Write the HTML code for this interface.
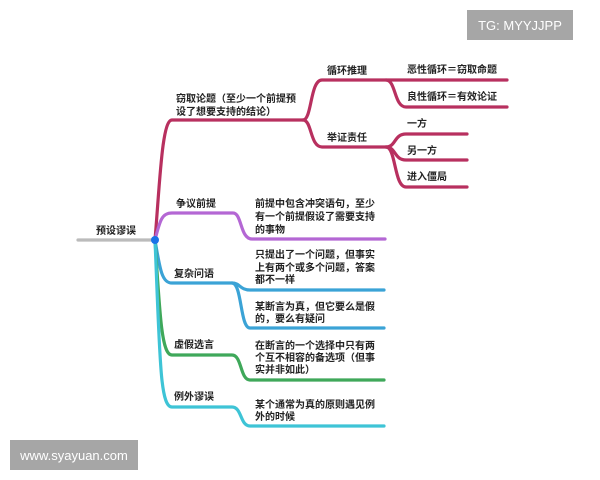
<!DOCTYPE html>
<html><head><meta charset="utf-8"><style>
html,body{margin:0;padding:0;background:#fff;width:600px;height:480px;overflow:hidden}
svg text{font-family:"Liberation Sans","Noto Sans CJK SC",sans-serif;font-size:10px;font-weight:600;fill:#222}
</style></head><body>
<svg width="600" height="480" viewBox="0 0 600 480" xmlns="http://www.w3.org/2000/svg">
<g fill="none" stroke-width="3.2" stroke-linecap="round">
<line x1="78" y1="240" x2="153" y2="240" stroke="#bbb"/>
<path d="M155 240 C160 180 162 120 172 120 L303 120" stroke="#b8305f"/>
<path d="M303 120 C312 120 310 80 322 80 L386 80 L507 80" stroke="#b8305f"/>
<path d="M303 120 C312 120 310 147 322 147 L386 147" stroke="#b8305f"/>
<path d="M386 80 C396 80 394 107 406 107 L507 107" stroke="#b8305f"/>
<path d="M386 147 C396 147 394 134 406 134 L467 134" stroke="#b8305f"/>
<path d="M386 147 C396 147 394 160 406 160 L467 160" stroke="#b8305f"/>
<path d="M386 147 C396 147 394 187 406 187 L467 187" stroke="#b8305f"/>
<path d="M155 240 C160 220 162 213 172 213 L233 213 C242 213 240 239 252 239 L385 239" stroke="#b467d4"/>
<path d="M155 240 C160 270 162 283 172 283 L232 283 C240 283 240 290 250 290 L384 290" stroke="#3ba3d6"/>
<path d="M232 283 C242 283 240 328 250 328 L384 328" stroke="#3ba3d6"/>
<path d="M155 240 C160 320 162 355 172 355 L232 355 C242 355 240 380 250 380 L384 380" stroke="#3fa85a"/>
<path d="M155 240 C160 360 160 407 172 407 L232 407 C242 407 240 426 250 426 L384 426" stroke="#3ec4d6"/>
</g>
<circle cx="155" cy="240" r="4" fill="#1a73e8"/>
<text x="96" y="234">预设谬误</text>
<text x="176" y="102">窃取论题（至少一个前提预</text>
<text x="176" y="115">设了想要支持的结论）</text>
<text x="327" y="74">循环推理</text>
<text x="407" y="73">恶性循环＝窃取命题</text>
<text x="407" y="100">良性循环＝有效论证</text>
<text x="327" y="141">举证责任</text>
<text x="407" y="127">一方</text>
<text x="407" y="154">另一方</text>
<text x="407" y="180">进入僵局</text>
<text x="176" y="207">争议前提</text>
<text x="255" y="207">前提中包含冲突语句，至少</text>
<text x="255" y="220">有一个前提假设了需要支持</text>
<text x="255" y="233">的事物</text>
<text x="174" y="277">复杂问语</text>
<text x="255" y="258">只提出了一个问题，但事实</text>
<text x="255" y="271">上有两个或多个问题，答案</text>
<text x="255" y="283">都不一样</text>
<text x="255" y="310">某断言为真，但它要么是假</text>
<text x="255" y="322">的，要么有疑问</text>
<text x="174" y="348">虚假选言</text>
<text x="255" y="349">在断言的一个选择中只有两</text>
<text x="255" y="361">个互不相容的备选项（但事</text>
<text x="255" y="373">实并非如此）</text>
<text x="174" y="400">例外谬误</text>
<text x="255" y="408">某个通常为真的原则遇见例</text>
<text x="255" y="420">外的时候</text>
<rect x="467" y="10" width="106" height="30" fill="#a6a6a6"/>
<text x="520" y="30" text-anchor="middle" style="fill:#fff;font-size:13px;font-weight:normal">TG: MYYJJPP</text>
<rect x="10" y="440" width="128" height="30" fill="#a6a6a6"/>
<text x="74" y="460" text-anchor="middle" style="fill:#fff;font-size:13px;font-weight:normal">www.syayuan.com</text>
</svg>
</body></html>
